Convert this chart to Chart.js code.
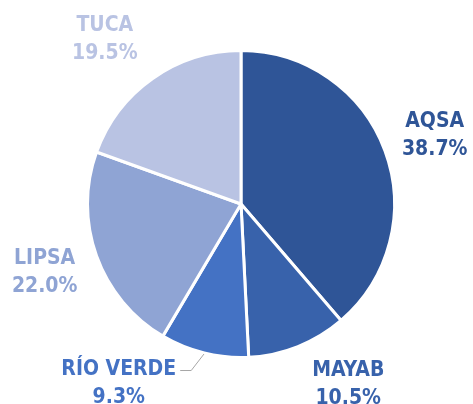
<!DOCTYPE html>
<html>
<head>
<meta charset="utf-8">
<script src="https://cdn.jsdelivr.net/npm/chart.js@4.4.0/dist/chart.umd.min.js"></script>
<style>
  html, body { margin: 0; padding: 0; background: #fff; }
  #wrap { width: 473px; height: 404px; }
</style>
</head>
<body>
<div id="wrap"><canvas id="chart" width="473" height="404"></canvas></div>
<script>
// data
const companies = ['AQSA', 'MAYAB', 'RÍO VERDE', 'LIPSA', 'TUCA']
const shares = [38.7, 10.5, 9.3, 22.0, 19.5]
const sliceColors = ['#2F5597', '#3862AB', '#4472C4', '#8FA4D4', '#B9C3E3']

// label nudges (Excel "best fit" placement), px
const nudges = [[1, 3], [31, -10], [-73, -20], [-3, -1], [-18, 4]]

const labelFont = 'bold 21px "DejaVu Sans Condensed", "DejaVu Sans", sans-serif'

const outsideLabels = {
  id: 'outsideLabels',
  afterDatasetsDraw(chart) {
    const ctx = chart.ctx
    const meta = chart.getDatasetMeta(0)
    ctx.save()
    ctx.font = labelFont
    ctx.textAlign = 'center'
    ctx.textBaseline = 'middle'
    meta.data.forEach((arc, i) => {
      const { x, y, startAngle, endAngle, outerRadius } = arc.getProps(['x', 'y', 'startAngle', 'endAngle', 'outerRadius'], true)
      const mid = (startAngle + endAngle) / 2
      const d = outerRadius + 52
      const lx = x + Math.cos(mid) * d + nudges[i][0]
      const ly = y + Math.sin(mid) * d + nudges[i][1]
      const name = companies[i]
      ctx.fillStyle = sliceColors[i]
      ctx.fillText(name, lx, ly - 14)
      ctx.fillText(shares[i].toFixed(1) + '%', lx, ly + 14)
      if (name === 'RÍO VERDE') {
        const w = ctx.measureText(name).width
        const ex = x + Math.cos(mid) * (outerRadius + 1)
        const ey = y + Math.sin(mid) * (outerRadius + 1)
        ctx.strokeStyle = '#A6A6A6'
        ctx.lineWidth = 1
        ctx.beginPath()
        ctx.moveTo(lx + w / 2 + 4, ly - 13)
        ctx.lineTo(lx + w / 2 + 15, ly - 13)
        ctx.lineTo(ex, ey)
        ctx.stroke()
      }
    })
    ctx.restore()
  }
}

new Chart(document.getElementById('chart'), {
  type: 'pie',
  data: {
    labels: companies,
    datasets: [{
      data: shares,
      backgroundColor: sliceColors,
      borderColor: '#FFFFFF',
      borderWidth: 3
    }]
  },
  options: {
    responsive: false,
    animation: false,
    layout: { padding: { left: 86, right: 77, top: 49, bottom: 45 } },
    plugins: {
      legend: { display: false },
      tooltip: { enabled: false }
    }
  },
  plugins: [outsideLabels]
})
</script>
</body>
</html>
